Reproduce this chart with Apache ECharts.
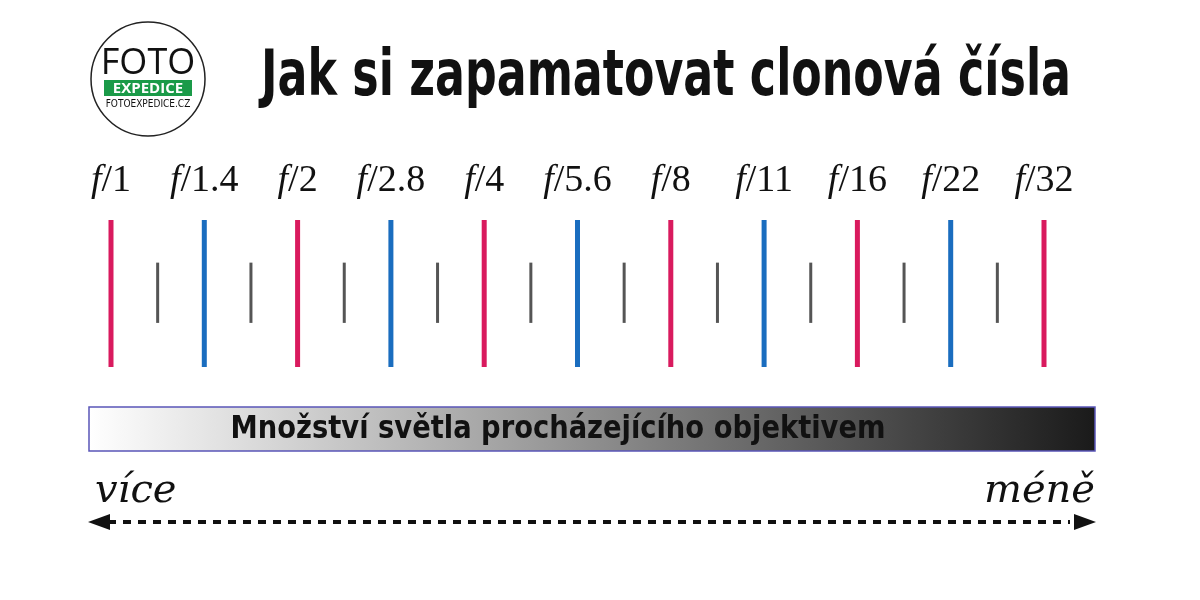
<!DOCTYPE html>
<html><head><meta charset="utf-8">
<script src="https://cdn.jsdelivr.net/npm/echarts@6/dist/echarts.min.js"></script>
<style>html,body{margin:0;background:#fff}#c{width:1200px;height:600px}</style>
</head><body><div id="c"></div>
<script>
// clonová čísla (celé clony) a jejich barvy
const stops = ['1', '1.4', '2', '2.8', '4', '5.6', '8', '11', '16', '22', '32'];
const stopColors = ['#d91a5e', '#1a6dbf', '#d91a5e', '#1a6dbf', '#d91a5e', '#1a6dbf', '#d91a5e', '#1a6dbf', '#d91a5e', '#1a6dbf', '#d91a5e'];
// mezikroky (polovina clony)
const halfStops = [0.5, 1.5, 2.5, 3.5, 4.5, 5.5, 6.5, 7.5, 8.5, 9.5];
const mainRange = [0, 100];
const halfRange = [30, 71];

const chart = echarts.init(document.getElementById('c'));

const option = {
  animation: false,
  grid: { left: 111, right: 156, top: 220, bottom: 233 },
  xAxis: { type: 'value', min: 0, max: 10, show: false },
  yAxis: { type: 'value', min: 0, max: 100, show: false },
  series: [{
    type: 'custom',
    data: stops.map((s, i) => [i, s]),
    renderItem: (params, api) => {
      const i = api.value(0);
      const a = api.coord([i, mainRange[0]]);
      const b = api.coord([i, mainRange[1]]);
      return {
        type: 'group',
        children: [{
          type: 'line',
          shape: { x1: a[0], y1: a[1], x2: b[0], y2: b[1] },
          style: { stroke: stopColors[i], lineWidth: 5 }
        }, {
          type: 'text',
          x: a[0], y: b[1] - 20,
          style: {
            rich: {
              f: { fontFamily: 'Liberation Serif', fontStyle: 'italic', fontSize: 38, fill: '#111' },
              n: { fontFamily: 'Liberation Serif', fontSize: 38, fill: '#111' }
            },
            text: '{f|f}{n|/' + stops[i] + '}',
            align: 'center', verticalAlign: 'bottom'
          }
        }]
      };
    }
  }, {
    type: 'custom',
    data: halfStops.map(v => [v]),
    renderItem: (params, api) => {
      const a = api.coord([api.value(0), halfRange[0]]);
      const b = api.coord([api.value(0), halfRange[1]]);
      return {
        type: 'line',
        shape: { x1: a[0], y1: a[1], x2: b[0], y2: b[1] },
        style: { stroke: '#555', lineWidth: 3 }
      };
    }
  }],
  graphic: [
    { type: 'circle', shape: { cx: 148, cy: 79, r: 57 }, style: { fill: '#fff', stroke: '#222', lineWidth: 1.5 } },
    { type: 'text', x: 148, y: 64, style: { text: 'FOTO', font: '36px "Open Sans"', fill: '#111', align: 'center', verticalAlign: 'middle' } },
    { type: 'rect', shape: { x: 104, y: 80, width: 88, height: 16 }, style: { fill: '#1a9a48' } },
    { type: 'text', x: 148, y: 89, style: { text: 'EXPEDICE', font: 'bold 15px "Open Sans"', fill: '#fff', align: 'center', verticalAlign: 'middle' } },
    { type: 'text', x: 148, y: 104, style: { text: 'FOTOEXPEDICE.CZ', font: '10px "DejaVu Sans Condensed"', fill: '#111', align: 'center', verticalAlign: 'middle' } },
    { type: 'text', x: 666, y: 78, scaleX: 0.77, style: { text: 'Jak si zapamatovat clonová čísla', font: 'bold 64px "DejaVu Sans Condensed"', fill: '#111', align: 'center', verticalAlign: 'middle' } },
    { type: 'rect', shape: { x: 89, y: 407, width: 1006, height: 44 }, style: {
      fill: new echarts.graphic.LinearGradient(0, 0, 1, 0, [{ offset: 0, color: '#ffffff' }, { offset: 0.45, color: '#9a9a9a' }, { offset: 1, color: '#1a1a1a' }]),
      stroke: '#5a55b8', lineWidth: 1.5 } },
    { type: 'text', x: 558, y: 430, scaleX: 0.95, style: { text: 'Množství světla procházejícího objektivem', font: 'bold 32px "DejaVu Sans Condensed"', fill: '#111', align: 'center', verticalAlign: 'middle' } },
    { type: 'text', x: 95, y: 492, style: { text: 'více', font: 'italic 40px "DejaVu Serif"', fill: '#111', verticalAlign: 'middle' } },
    { type: 'text', x: 1095, y: 492, style: { text: 'méně', font: 'italic 40px "DejaVu Serif"', fill: '#111', align: 'right', verticalAlign: 'middle' } },
    { type: 'line', shape: { x1: 108, y1: 522, x2: 1070, y2: 522 }, style: { stroke: '#111', lineWidth: 4, lineDash: [8, 7] } },
    { type: 'polygon', shape: { points: [[88, 522], [110, 514], [110, 530]] }, style: { fill: '#111' } },
    { type: 'polygon', shape: { points: [[1096, 522], [1074, 514], [1074, 530]] }, style: { fill: '#111' } }
  ]
};
chart.setOption(option);
</script></body></html>
